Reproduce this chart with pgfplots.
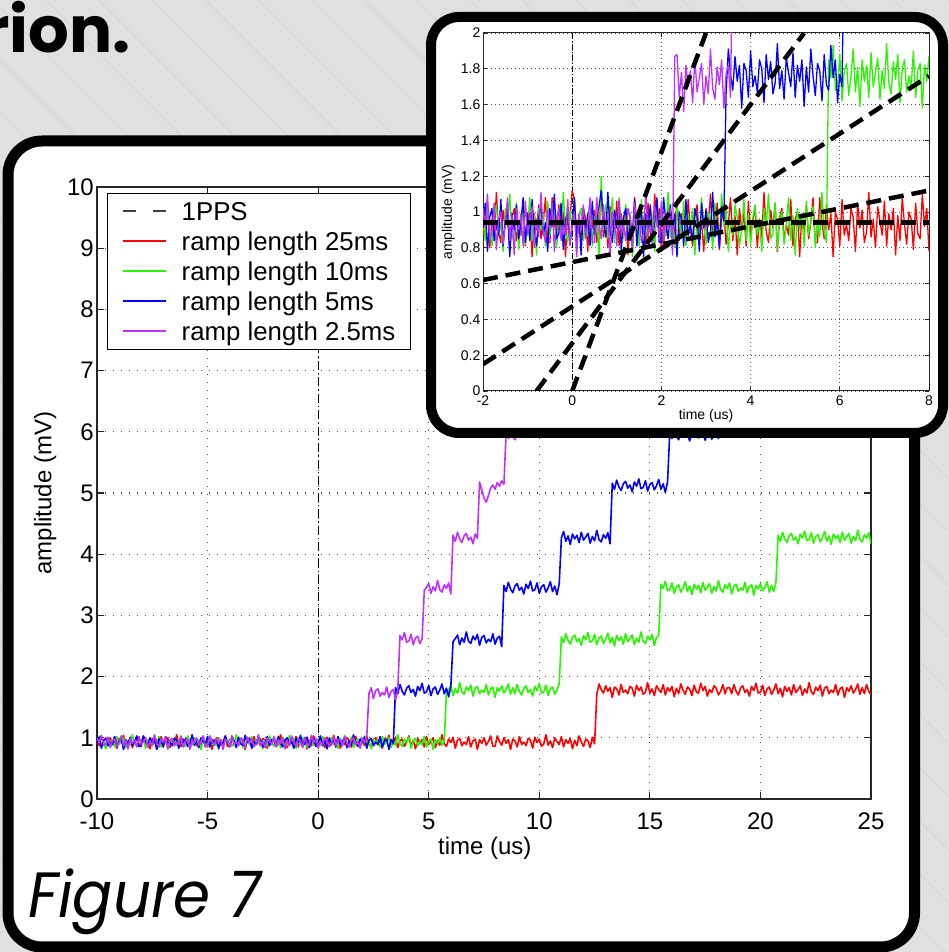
\documentclass[border=0pt]{standalone}
\usepackage{fontspec}
\setmainfont{Liberation Sans}
\newfontfamily\pop{Poppins}
\usepackage{pgfplots}
\pgfplotsset{compat=1.18}

\definecolor{bg}{RGB}{224,224,224}
\definecolor{diag}{RGB}{213,213,213}
\definecolor{mred}{RGB}{255,0,0}
\definecolor{mgreen}{RGB}{40,245,0}
\definecolor{mblue}{RGB}{0,0,255}
\definecolor{mpurple}{RGB}{190,50,255}

% legend swatches
\newcommand\legline[1]{\textcolor{#1}{\rule[8.4pt]{43pt}{1.6pt}}}
\newcommand\legdash{\textcolor{black!75}{\rule[8.6pt]{13pt}{1.2pt}\hspace{17pt}\rule[8.6pt]{13pt}{1.2pt}}}

\pgfplotsset{
  sig/.style={draw=#1, line width=1.6pt, line join=round},
  sigz/.style={draw=#1, line width=1.3pt, line join=round},
  fit/.style={black, line width=4.5pt, dash pattern=on 15pt off 8pt},
}

\begin{document}
\begin{tikzpicture}[x=1pt,y=1pt]
\path[use as bounding box] (0,0) rectangle (949,952);
\clip (0,0) rectangle (949,952);
% slide background
\fill[bg] (0,0) rectangle (949,952);
\foreach \k in {0,...,36} \draw[diag, line width=1pt] ({-908+53*\k},952) -- ({44+53*\k},0);
\node[anchor=base east, font=\pop\bfseries\fontsize{64}{64}\selectfont, inner sep=0pt] at (131,899) {rion.};

% main panel
\draw[line width=11pt, fill=white, rounded corners=34pt] (8,5) rectangle (914.5,811);

\begin{axis}[
  at={(97pt,153pt)}, anchor=south west,
  width=774pt, height=612pt, scale only axis,
  xmin=-10, xmax=25, ymin=0, ymax=10,
  xtick={-10,-5,0,5,10,15,20,25}, ytick={0,1,...,10},
  tick align=inside, major tick length=7pt,
  axis line style={line width=1.5pt, black!85},
  every tick/.style={black!85, line width=1.2pt},
  grid=major,
  major grid style={line width=1.2pt, black!70, dash pattern=on 1.4pt off 6.6pt},
  tick label style={font=\fontsize{24}{24}\selectfont, /pgf/number format/assume math mode=true},
  xticklabel style={yshift=-10pt},
  yticklabel style={inner xsep=3pt},
  label style={font=\fontsize{24}{24}\selectfont},
  xlabel={time (us)}, ylabel={amplitude (mV)},
  xlabel style={at={(axis description cs:0.501,-0.080)}, anchor=center},
  ylabel style={at={(axis description cs:-0.067,0.5)}, anchor=center},
]
% 1PPS
\addplot[draw=black, line width=1pt, dash pattern=on 9pt off 3pt on 1.5pt off 3pt] coordinates {(0,0) (0,10)};

% ramp length 25ms, sampled every 0.1 us from -10 us
\addplot[sig=mred] table[row sep=\\, header=false, y index=0, x expr=\coordindex*0.1-10] {
0.97\\0.87\\1.02\\0.91\\0.85\\0.96\\1.00\\0.89\\0.94\\0.83\\
0.99\\0.92\\1.04\\0.88\\0.90\\1.01\\0.84\\0.95\\0.98\\0.86\\
0.93\\1.03\\0.87\\0.96\\0.82\\0.99\\0.91\\0.97\\0.85\\1.02\\
0.89\\0.94\\1.00\\0.84\\0.95\\0.88\\1.05\\0.90\\0.86\\0.98\\
0.92\\1.01\\0.83\\0.96\\0.99\\0.87\\0.93\\0.89\\1.02\\0.85\\
0.95\\0.98\\0.81\\0.97\\0.91\\1.00\\0.88\\0.94\\1.03\\0.86\\
0.86\\1.03\\0.94\\0.88\\1.00\\0.91\\0.97\\0.81\\0.98\\0.95\\
0.85\\1.02\\0.89\\0.93\\0.87\\0.99\\0.96\\0.83\\1.01\\0.92\\
0.98\\0.86\\0.90\\1.05\\0.88\\0.95\\0.84\\1.00\\0.94\\0.89\\
1.02\\0.85\\0.97\\0.91\\0.99\\0.82\\0.96\\0.87\\1.03\\0.93\\
0.86\\0.98\\0.95\\0.84\\1.01\\0.90\\0.88\\1.04\\0.92\\0.99\\
0.83\\0.94\\0.89\\1.00\\0.96\\0.85\\0.91\\1.02\\0.87\\0.97\\
0.97\\0.87\\1.02\\0.91\\0.85\\0.96\\1.00\\0.89\\0.94\\0.83\\
0.99\\0.92\\1.04\\0.88\\0.90\\1.01\\0.84\\0.95\\0.98\\0.86\\
0.93\\1.03\\0.87\\0.96\\0.82\\0.99\\0.91\\0.97\\0.85\\1.02\\
0.89\\0.94\\1.00\\0.84\\0.95\\0.88\\1.05\\0.90\\0.86\\0.98\\
0.92\\1.01\\0.83\\0.96\\0.99\\0.87\\0.93\\0.89\\1.02\\0.85\\
0.95\\0.98\\0.81\\0.97\\0.91\\1.00\\0.88\\0.94\\1.03\\0.86\\
0.86\\1.03\\0.94\\0.88\\1.00\\0.91\\0.97\\0.81\\0.98\\0.95\\
0.85\\1.02\\0.89\\0.93\\0.87\\0.99\\0.96\\0.83\\1.01\\0.92\\
0.98\\0.86\\0.90\\1.05\\0.88\\0.95\\0.84\\1.00\\0.94\\0.89\\
1.02\\0.85\\0.97\\0.91\\0.99\\0.82\\0.96\\0.87\\1.03\\0.93\\
0.86\\0.98\\0.95\\0.84\\1.01\\0.90\\
1.71\\1.88\\1.79\\1.73\\1.85\\1.76\\1.82\\1.66\\1.83\\1.80\\
1.70\\1.87\\1.74\\1.78\\1.72\\1.84\\1.81\\1.68\\1.86\\1.77\\
1.83\\1.71\\1.75\\1.90\\1.73\\1.80\\1.69\\1.85\\1.79\\1.74\\
1.87\\1.70\\1.82\\1.76\\1.84\\1.67\\1.81\\1.72\\1.88\\1.78\\
1.71\\1.83\\1.80\\1.69\\1.86\\1.75\\1.73\\1.89\\1.77\\1.84\\
1.68\\1.79\\1.74\\1.85\\1.81\\1.70\\1.76\\1.87\\1.72\\1.82\\
1.82\\1.72\\1.87\\1.76\\1.70\\1.81\\1.85\\1.74\\1.79\\1.68\\
1.84\\1.77\\1.89\\1.73\\1.75\\1.86\\1.69\\1.80\\1.83\\1.71\\
1.78\\1.88\\1.72\\1.81\\1.67\\1.84\\1.76\\1.82\\1.70\\1.87\\
1.74\\1.79\\1.85\\1.69\\1.80\\1.73\\1.90\\1.75\\1.71\\1.83\\
1.77\\1.86\\1.68\\1.81\\1.84\\1.72\\1.78\\1.74\\1.87\\1.70\\
1.80\\1.83\\1.66\\1.82\\1.76\\1.85\\1.73\\1.79\\1.88\\1.71\\
1.82\\1.72\\1.87\\1.76\\1.70\\
};

% ramp length 10ms
\addplot[sig=mgreen] table[row sep=\\, header=false, y index=0, x expr=\coordindex*0.1-10] {
0.93\\1.03\\0.87\\0.96\\0.82\\0.99\\0.91\\0.97\\0.85\\1.02\\
0.89\\0.94\\1.00\\0.84\\0.95\\0.88\\1.05\\0.90\\0.86\\0.98\\
0.92\\1.01\\0.83\\0.96\\0.99\\0.87\\0.93\\0.89\\1.02\\0.85\\
0.95\\0.98\\0.81\\0.97\\0.91\\1.00\\0.88\\0.94\\1.03\\0.86\\
0.86\\1.03\\0.94\\0.88\\1.00\\0.91\\0.97\\0.81\\0.98\\0.95\\
0.85\\1.02\\0.89\\0.93\\0.87\\0.99\\0.96\\0.83\\1.01\\0.92\\
0.98\\0.86\\0.90\\1.05\\0.88\\0.95\\0.84\\1.00\\0.94\\0.89\\
1.02\\0.85\\0.97\\0.91\\0.99\\0.82\\0.96\\0.87\\1.03\\0.93\\
0.86\\0.98\\0.95\\0.84\\1.01\\0.90\\0.88\\1.04\\0.92\\0.99\\
0.83\\0.94\\0.89\\1.00\\0.96\\0.85\\0.91\\1.02\\0.87\\0.97\\
0.97\\0.87\\1.02\\0.91\\0.85\\0.96\\1.00\\0.89\\0.94\\0.83\\
0.99\\0.92\\1.04\\0.88\\0.90\\1.01\\0.84\\0.95\\0.98\\0.86\\
0.93\\1.03\\0.87\\0.96\\0.82\\0.99\\0.91\\0.97\\0.85\\1.02\\
0.89\\0.94\\1.00\\0.84\\0.95\\0.88\\1.05\\0.90\\0.86\\0.98\\
0.92\\1.01\\0.83\\0.96\\0.99\\0.87\\0.93\\0.89\\1.02\\0.85\\
0.95\\0.98\\0.81\\0.97\\0.91\\1.00\\0.88\\0.94\\
1.74\\1.79\\1.85\\1.69\\1.80\\1.73\\1.90\\1.75\\1.71\\1.83\\
1.77\\1.86\\1.68\\1.81\\1.84\\1.72\\1.78\\1.74\\1.87\\1.70\\
1.80\\1.83\\1.66\\1.82\\1.76\\1.85\\1.73\\1.79\\1.88\\1.71\\
1.82\\1.72\\1.87\\1.76\\1.70\\1.81\\1.85\\1.74\\1.79\\1.68\\
1.84\\1.77\\1.89\\1.73\\1.75\\1.86\\1.69\\1.80\\1.83\\1.71\\
1.78\\1.88\\
2.65\\2.55\\2.70\\2.59\\2.53\\2.64\\2.68\\2.57\\2.62\\2.51\\
2.67\\2.60\\2.72\\2.56\\2.58\\2.69\\2.52\\2.63\\2.66\\2.54\\
2.61\\2.71\\2.55\\2.64\\2.50\\2.67\\2.59\\2.65\\2.53\\2.70\\
2.57\\2.62\\2.68\\2.52\\2.63\\2.56\\2.73\\2.58\\2.54\\2.66\\
2.60\\2.69\\2.51\\2.64\\2.67\\
3.51\\3.44\\3.56\\3.40\\3.42\\3.53\\3.36\\3.47\\3.50\\3.38\\
3.45\\3.55\\3.39\\3.48\\3.34\\3.51\\3.43\\3.49\\3.37\\3.54\\
3.41\\3.46\\3.52\\3.36\\3.47\\3.40\\3.57\\3.42\\3.38\\3.50\\
3.44\\3.53\\3.35\\3.48\\3.51\\3.39\\3.45\\3.41\\3.54\\3.37\\
3.47\\3.50\\3.33\\3.49\\3.43\\3.52\\3.40\\3.46\\3.55\\3.38\\
3.49\\3.39\\3.54\\
4.31\\4.21\\4.36\\4.25\\4.19\\4.30\\4.34\\4.23\\4.28\\4.17\\
4.33\\4.26\\4.38\\4.22\\4.24\\4.35\\4.18\\4.29\\4.32\\4.20\\
4.27\\4.37\\4.21\\4.30\\4.16\\4.33\\4.25\\4.31\\4.19\\4.36\\
4.23\\4.28\\4.34\\4.18\\4.29\\4.22\\4.39\\4.24\\4.20\\4.32\\
4.26\\4.35\\4.17\\
};

% ramp length 5ms
\addplot[sig=mblue] table[row sep=\\, header=false, y index=0, x expr=\coordindex*0.1-10] {
0.92\\1.01\\0.83\\0.96\\0.99\\0.87\\0.93\\0.89\\1.02\\0.85\\
0.95\\0.98\\0.81\\0.97\\0.91\\1.00\\0.88\\0.94\\1.03\\0.86\\
0.86\\1.03\\0.94\\0.88\\1.00\\0.91\\0.97\\0.81\\0.98\\0.95\\
0.85\\1.02\\0.89\\0.93\\0.87\\0.99\\0.96\\0.83\\1.01\\0.92\\
0.98\\0.86\\0.90\\1.05\\0.88\\0.95\\0.84\\1.00\\0.94\\0.89\\
1.02\\0.85\\0.97\\0.91\\0.99\\0.82\\0.96\\0.87\\1.03\\0.93\\
0.86\\0.98\\0.95\\0.84\\1.01\\0.90\\0.88\\1.04\\0.92\\0.99\\
0.83\\0.94\\0.89\\1.00\\0.96\\0.85\\0.91\\1.02\\0.87\\0.97\\
0.97\\0.87\\1.02\\0.91\\0.85\\0.96\\1.00\\0.89\\0.94\\0.83\\
0.99\\0.92\\1.04\\0.88\\0.90\\1.01\\0.84\\0.95\\0.98\\0.86\\
0.93\\1.03\\0.87\\0.96\\0.82\\0.99\\0.91\\0.97\\0.85\\1.02\\
0.89\\0.94\\1.00\\0.84\\0.95\\0.88\\1.05\\0.90\\0.86\\0.98\\
0.92\\1.01\\0.83\\0.96\\0.99\\0.87\\0.93\\0.89\\1.02\\0.85\\
0.95\\0.98\\0.81\\0.97\\0.91\\
1.82\\1.72\\1.87\\1.76\\1.70\\1.81\\1.85\\1.74\\1.79\\1.68\\
1.84\\1.77\\1.89\\1.73\\1.75\\1.86\\1.69\\1.80\\1.83\\1.71\\
1.78\\1.88\\1.72\\1.81\\1.67\\1.84\\
2.57\\2.62\\2.68\\2.52\\2.63\\2.56\\2.73\\2.58\\2.54\\2.66\\
2.60\\2.69\\2.51\\2.64\\2.67\\2.55\\2.61\\2.57\\2.70\\2.53\\
2.63\\2.66\\2.49\\
3.49\\3.39\\3.54\\3.43\\3.37\\3.48\\3.52\\3.41\\3.46\\3.35\\
3.51\\3.44\\3.56\\3.40\\3.42\\3.53\\3.36\\3.47\\3.50\\3.38\\
3.45\\3.55\\3.39\\3.48\\3.34\\3.51\\
4.27\\4.37\\4.21\\4.30\\4.16\\4.33\\4.25\\4.31\\4.19\\4.36\\
4.23\\4.28\\4.34\\4.18\\4.29\\4.22\\4.39\\4.24\\4.20\\4.32\\
4.26\\4.35\\4.17\\
5.16\\5.06\\5.21\\5.10\\5.04\\5.15\\5.19\\5.08\\5.13\\5.02\\
5.18\\5.11\\5.23\\5.07\\5.09\\5.20\\5.03\\5.14\\5.17\\5.05\\
5.12\\5.22\\5.06\\5.15\\5.01\\5.18\\
5.99\\5.89\\6.04\\5.93\\5.87\\5.98\\6.02\\5.91\\5.96\\5.85\\
6.01\\5.94\\6.06\\5.90\\5.92\\6.03\\5.86\\5.97\\6.00\\5.88\\
5.95\\6.05\\5.89\\5.98\\
};

% ramp length 2.5ms
\addplot[sig=mpurple] table[row sep=\\, header=false, y index=0, x expr=\coordindex*0.1-10] {
0.99\\0.92\\1.04\\0.88\\0.90\\1.01\\0.84\\0.95\\0.98\\0.86\\
0.93\\1.03\\0.87\\0.96\\0.82\\0.99\\0.91\\0.97\\0.85\\1.02\\
0.89\\0.94\\1.00\\0.84\\0.95\\0.88\\1.05\\0.90\\0.86\\0.98\\
0.92\\1.01\\0.83\\0.96\\0.99\\0.87\\0.93\\0.89\\1.02\\0.85\\
0.95\\0.98\\0.81\\0.97\\0.91\\1.00\\0.88\\0.94\\1.03\\0.86\\
0.86\\1.03\\0.94\\0.88\\1.00\\0.91\\0.97\\0.81\\0.98\\0.95\\
0.85\\1.02\\0.89\\0.93\\0.87\\0.99\\0.96\\0.83\\1.01\\0.92\\
0.98\\0.86\\0.90\\1.05\\0.88\\0.95\\0.84\\1.00\\0.94\\0.89\\
1.02\\0.85\\0.97\\0.91\\0.99\\0.82\\0.96\\0.87\\1.03\\0.93\\
0.86\\0.98\\0.95\\0.84\\1.01\\0.90\\0.88\\1.04\\0.92\\0.99\\
0.83\\0.94\\0.89\\1.00\\0.96\\0.85\\0.91\\1.02\\0.87\\0.97\\
0.97\\0.87\\1.02\\0.91\\0.85\\0.96\\1.00\\0.89\\0.94\\0.83\\
0.99\\0.92\\1.04\\
1.73\\1.82\\1.64\\1.77\\1.80\\1.68\\1.74\\1.70\\1.83\\1.66\\
1.76\\1.79\\1.62\\1.78\\
2.67\\2.60\\2.72\\2.56\\2.58\\2.69\\2.52\\2.63\\2.66\\2.54\\2.61\\
3.41\\3.46\\3.52\\3.36\\3.47\\3.40\\3.57\\3.42\\3.38\\3.50\\
3.44\\3.53\\3.35\\
4.31\\4.21\\4.36\\4.25\\4.19\\4.30\\4.34\\4.23\\4.28\\4.17\\4.33\\4.26\\
5.18\\5.05\\4.92\\4.85\\4.96\\5.08\\5.13\\5.06\\5.17\\5.11\\5.20\\5.14\\
5.99\\5.89\\6.04\\5.93\\5.87\\5.98\\6.02\\5.91\\
};

% legend
\node[draw=black, line width=1.3pt, fill=white, anchor=north west,
      inner xsep=15pt, inner ysep=3pt,
      font=\fontsize{25.8}{30}\selectfont]
  at (rel axis cs:0.013,0.990) {%
  \raisebox{-2.5pt}[\height][\depth]{%
  \begin{tabular}{@{}l@{\hspace{16pt}}l@{}}
    \legdash & 1PPS\\
    \legline{mred} & ramp length 25ms\\
    \legline{mgreen} & ramp length 10ms\\
    \legline{mblue} & ramp length 5ms\\
    \legline{mpurple} & ramp length 2.5ms
  \end{tabular}}};
\end{axis}

\node[anchor=base west, inner sep=0pt] at (28,34)
  {\scalebox{0.93}[1]{\pop\itshape\fontsize{64}{64}\selectfont Figure 7}};

% zoomed panel
\draw[line width=10pt, fill=white, rounded corners=28pt] (431,519) rectangle (943,935);

\begin{axis}[
  at={(483pt,561pt)}, anchor=south west,
  width=446pt, height=358pt, scale only axis,
  xmin=-2, xmax=8, ymin=0, ymax=2,
  xtick={-2,0,2,4,6,8}, ytick={0,0.2,0.4,0.6,0.8,1,1.2,1.4,1.6,1.8,2},
  tick align=inside, major tick length=4pt,
  axis line style={line width=1pt, black!85},
  every tick/.style={black!85, line width=0.8pt},
  grid=major,
  major grid style={line width=0.8pt, black!65, dash pattern=on 0.8pt off 3.2pt},
  tick label style={font=\fontsize{14}{14}\selectfont, /pgf/number format/assume math mode=true},
  xticklabel style={yshift=-1pt},
  yticklabel style={inner xsep=2.5pt},
  label style={font=\fontsize{14}{14}\selectfont},
  xlabel={time (us)}, ylabel={amplitude (mV)},
  xlabel style={at={(axis description cs:0.5,-0.070)}, anchor=center},
  ylabel style={at={(axis description cs:-0.078,0.5)}, anchor=center},
]
\addplot[black, line width=0.7pt, dash pattern=on 6pt off 2pt on 1pt off 2pt] coordinates {(0,0) (0,2)};

% ramp length 25ms, sampled every 0.05 us from -2 us
\addplot[sigz=mred] table[row sep=\\, header=false, y index=0, x expr=\coordindex*0.05-2] {
0.87\\0.95\\1.03\\0.80\\0.96\\0.86\\1.11\\0.89\\0.83\\1.01\\
0.91\\1.05\\0.78\\0.97\\1.02\\0.84\\0.93\\0.87\\1.07\\0.81\\
0.96\\1.00\\0.75\\0.99\\0.90\\1.04\\0.85\\0.94\\1.08\\0.83\\
0.83\\1.08\\0.94\\0.85\\1.04\\0.90\\0.99\\0.75\\1.00\\0.96\\
1.12\\1.07\\0.87\\0.93\\0.84\\1.02\\0.97\\0.78\\1.05\\0.91\\
1.01\\0.83\\0.89\\1.11\\0.86\\0.96\\0.80\\1.03\\0.95\\0.87\\
1.06\\0.81\\0.99\\0.90\\1.02\\0.76\\0.98\\0.84\\1.08\\0.93\\
0.82\\1.00\\0.96\\0.79\\1.05\\0.88\\0.85\\1.10\\0.92\\1.02\\
0.78\\0.94\\0.87\\1.04\\0.97\\0.81\\0.90\\1.07\\0.84\\0.99\\
0.99\\0.84\\1.07\\0.90\\0.81\\0.97\\1.04\\0.87\\0.94\\0.78\\
1.02\\0.92\\1.10\\0.85\\0.88\\1.05\\0.79\\0.96\\1.00\\0.82\\
0.93\\1.08\\0.84\\0.98\\0.76\\1.02\\0.90\\0.99\\0.81\\1.06\\
0.87\\0.95\\1.03\\0.80\\0.96\\0.86\\1.11\\0.89\\0.83\\1.01\\
0.91\\1.05\\0.78\\0.97\\1.02\\0.84\\0.93\\0.87\\1.07\\0.81\\
0.96\\1.00\\0.75\\0.99\\0.90\\1.04\\0.85\\0.94\\1.08\\0.83\\
0.83\\1.08\\0.94\\0.85\\1.04\\0.90\\0.99\\0.75\\1.00\\0.96\\
0.81\\1.07\\0.87\\0.93\\0.84\\1.02\\0.97\\0.78\\1.05\\0.91\\
1.01\\0.83\\0.89\\1.11\\0.86\\0.96\\0.80\\1.03\\0.95\\0.87\\
1.06\\0.81\\0.99\\0.90\\1.02\\0.76\\0.98\\0.84\\1.08\\0.93\\
0.82\\1.00\\0.96\\0.79\\1.05\\0.88\\0.85\\1.10\\0.92\\1.02\\
0.78\\
};

% ramp length 10ms
\addplot[sigz=mgreen] table[row sep=\\, header=false, y index=0, x expr=\coordindex*0.05-2] {
0.99\\0.84\\1.07\\0.90\\0.81\\0.97\\1.04\\0.87\\0.94\\0.78\\
1.02\\0.92\\1.10\\0.85\\0.88\\1.05\\0.79\\0.96\\1.00\\0.82\\
0.93\\1.08\\0.84\\0.98\\0.76\\1.02\\0.90\\0.99\\0.81\\1.06\\
0.87\\0.95\\1.03\\0.80\\0.96\\0.86\\1.11\\0.89\\0.83\\1.01\\
0.91\\1.05\\0.78\\0.97\\1.02\\0.84\\0.93\\0.87\\1.07\\0.81\\
0.96\\1.00\\0.75\\1.20\\0.90\\1.04\\0.85\\0.94\\1.08\\0.83\\
0.83\\1.08\\0.94\\0.85\\1.04\\0.90\\0.99\\0.75\\1.00\\0.96\\
0.81\\1.07\\0.87\\0.93\\0.84\\1.02\\0.97\\0.78\\1.05\\0.91\\
1.01\\0.83\\0.89\\1.11\\0.86\\0.96\\0.80\\1.03\\0.95\\0.87\\
1.06\\0.81\\0.99\\0.90\\1.02\\0.76\\0.98\\0.84\\1.08\\0.93\\
0.82\\1.00\\0.96\\0.79\\1.05\\0.88\\0.85\\1.10\\0.92\\1.02\\
0.78\\0.94\\0.87\\1.04\\0.97\\0.81\\0.90\\1.07\\0.84\\0.99\\
0.81\\0.97\\1.04\\0.87\\0.94\\0.78\\
1.02\\0.92\\1.10\\0.85\\0.88\\1.05\\0.79\\0.96\\1.00\\0.82\\
0.93\\1.08\\0.84\\0.98\\0.76\\1.02\\0.90\\0.99\\0.81\\1.06\\
0.87\\0.95\\1.03\\0.80\\0.96\\0.86\\1.11\\0.89\\0.83\\
1.85\\1.75\\1.93\\1.68\\1.71\\1.88\\1.62\\1.79\\1.83\\1.65\\
1.76\\1.91\\1.67\\1.81\\1.59\\1.85\\1.73\\1.82\\1.64\\1.89\\
1.70\\1.78\\1.86\\1.63\\1.79\\1.69\\1.94\\1.72\\1.66\\1.84\\
1.74\\1.88\\1.61\\1.80\\1.85\\1.67\\1.76\\1.70\\1.90\\1.64\\
1.79\\1.83\\1.58\\1.82\\1.73\\1.87\\
};

% ramp length 5ms
\addplot[sigz=mblue] table[row sep=\\, header=false, y index=0, x expr=\coordindex*0.05-2] {
0.91\\1.05\\0.78\\0.97\\1.02\\0.84\\0.93\\0.87\\1.07\\0.81\\
0.96\\1.00\\0.75\\0.99\\0.90\\1.04\\0.85\\0.94\\1.08\\0.83\\
0.99\\0.84\\1.07\\0.90\\0.81\\0.97\\1.04\\0.87\\0.94\\0.78\\
1.02\\0.92\\1.10\\0.85\\0.88\\1.05\\0.79\\0.96\\1.00\\0.82\\
0.93\\1.08\\0.84\\0.98\\0.76\\1.02\\0.90\\0.99\\0.81\\1.06\\
0.87\\0.95\\1.03\\1.12\\0.96\\0.86\\1.11\\0.89\\0.83\\1.01\\
0.91\\1.05\\0.78\\0.97\\1.02\\0.84\\0.93\\0.87\\1.07\\0.81\\
0.96\\1.00\\0.75\\0.99\\0.90\\1.04\\0.85\\0.94\\1.08\\0.83\\
0.83\\1.08\\0.94\\0.85\\1.04\\0.90\\0.99\\0.75\\1.00\\0.96\\
0.81\\1.07\\0.87\\0.93\\0.84\\1.02\\0.97\\0.78\\1.05\\0.91\\
1.01\\0.83\\0.89\\1.11\\0.86\\0.96\\0.80\\1.03\\0.95\\
1.66\\1.91\\1.77\\1.68\\1.87\\1.73\\1.82\\1.58\\1.83\\1.79\\
1.64\\1.90\\1.70\\1.76\\1.67\\1.85\\1.80\\1.61\\1.88\\1.74\\
1.84\\1.66\\1.72\\1.94\\1.69\\1.79\\1.63\\1.86\\1.78\\1.70\\
1.89\\1.64\\1.82\\1.73\\1.85\\1.59\\1.81\\1.67\\1.91\\1.76\\
1.65\\1.83\\1.79\\1.62\\1.88\\1.71\\1.68\\1.93\\1.75\\1.85\\
1.61\\1.77\\1.70\\
2.62\\2.66\\
};

% ramp length 2.5ms
\addplot[sigz=mpurple] table[row sep=\\, header=false, y index=0, x expr=\coordindex*0.05-2] {
1.02\\0.92\\1.10\\0.85\\0.88\\1.05\\0.79\\0.96\\1.00\\0.82\\
0.93\\1.08\\0.84\\0.98\\0.76\\1.02\\0.90\\0.99\\0.81\\1.06\\
0.87\\0.95\\1.03\\0.80\\0.96\\0.86\\1.11\\0.89\\0.83\\1.01\\
0.91\\1.05\\0.78\\0.97\\1.02\\0.84\\0.93\\0.87\\1.07\\0.81\\
0.96\\1.00\\0.75\\0.99\\0.90\\1.04\\0.85\\0.94\\1.08\\0.83\\
0.83\\1.08\\0.94\\0.85\\1.04\\0.90\\0.99\\0.75\\1.00\\0.96\\
0.81\\1.07\\0.87\\0.93\\0.84\\1.02\\0.97\\0.78\\1.05\\0.91\\
1.01\\0.83\\0.89\\1.11\\0.86\\0.96\\0.80\\1.03\\0.95\\0.87\\
1.06\\0.81\\0.99\\0.90\\1.02\\0.76\\
1.87\\1.88\\1.64\\1.78\\1.56\\1.82\\1.70\\1.79\\1.61\\1.86\\
1.67\\1.75\\1.83\\1.60\\1.76\\1.66\\1.91\\1.69\\1.63\\1.81\\
1.71\\1.85\\1.58\\1.77\\1.82\\1.64\\
2.62\\2.66\\
};

% linear fits of the leading edges
\addplot[black, line width=5.5pt, dash pattern=on 15pt off 7pt] coordinates {(-2,0.94) (8,0.94)};
\addplot[fit] coordinates {(0,0) (3.0,2.0)};
\addplot[fit] coordinates {(-0.8,0) (5.2,2.0)};
\addplot[fit] coordinates {(-2,0.15) (8,1.76)};
\addplot[fit] coordinates {(-2,0.62) (8,1.12)};
\end{axis}
\end{tikzpicture}
\end{document}
